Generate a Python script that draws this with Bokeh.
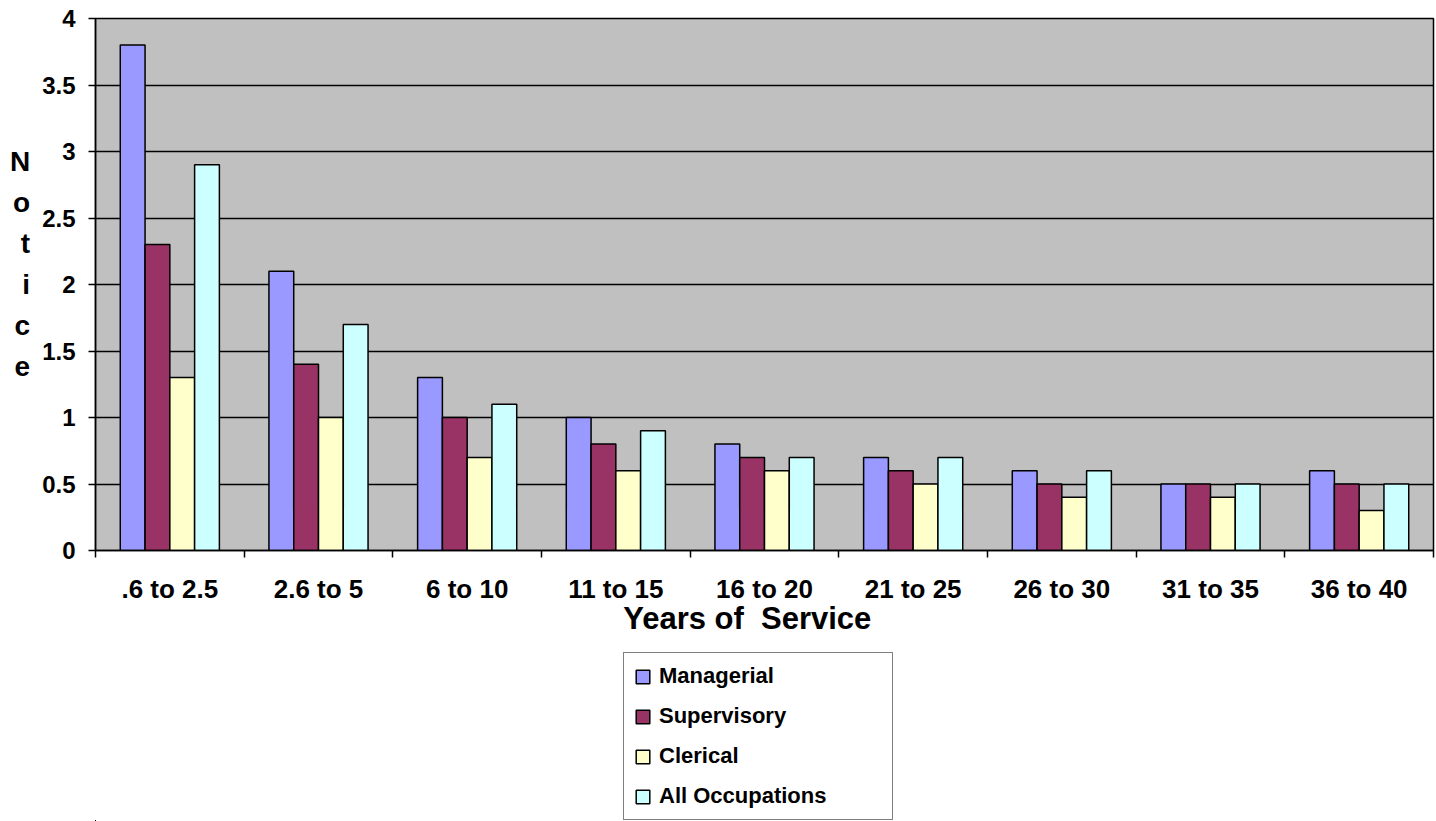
from bokeh.plotting import figure
from bokeh.layouts import column
from bokeh.models import (ColumnDataSource, Range1d, FixedTicker, NumeralTickFormatter,
                          Legend, LegendItem)
from bokeh.transform import dodge
from bokeh.embed import file_html
from bokeh.resources import INLINE

categories = [".6 to 2.5", "2.6 to 5", "6 to 10", "11 to 15", "16 to 20",
              "21 to 25", "26 to 30", "31 to 35", "36 to 40"]
managerial = [3.8, 2.1, 1.3, 1.0, 0.8, 0.7, 0.6, 0.5, 0.6]
supervisory = [2.3, 1.4, 1.0, 0.8, 0.7, 0.6, 0.5, 0.5, 0.5]
clerical = [1.3, 1.0, 0.7, 0.6, 0.6, 0.5, 0.4, 0.4, 0.3]
all_occupations = [2.9, 1.7, 1.1, 0.9, 0.7, 0.7, 0.6, 0.5, 0.5]
series_names = ["Managerial", "Supervisory", "Clerical", "All Occupations"]
series_keys = ["managerial", "supervisory", "clerical", "all_occupations"]
series_colors = ["#9999FF", "#993366", "#FFFFCC", "#CCFFFF"]
y_ticks = [0, 0.5, 1, 1.5, 2, 2.5, 3, 3.5, 4]

FONT = "Liberation Sans"

n = len(categories)
centers = [i + 0.5 for i in range(n)]
bounds = list(range(n + 1))

src = ColumnDataSource(dict(x=centers, managerial=managerial, supervisory=supervisory,
                            clerical=clerical, all_occupations=all_occupations))

p = figure(width=1436, height=644, x_range=Range1d(0, n), y_range=Range1d(0, 4),
           output_backend="svg", toolbar_location=None,
           min_border_top=18, min_border_right=3, min_border_left=95, min_border_bottom=94)
p.background_fill_color = "#C0C0C0"
p.border_fill_color = "white"
p.outline_line_color = "black"
p.outline_line_width = 1.5

p.xgrid.visible = False
p.yaxis.ticker = FixedTicker(ticks=y_ticks)
p.yaxis.formatter = NumeralTickFormatter(format="0.[0]")
p.ygrid.grid_line_color = "black"
p.ygrid.grid_line_width = 1.5

# y axis
p.yaxis.axis_line_color = "black"
p.yaxis.axis_line_width = 1.5
p.yaxis.major_tick_in = 0
p.yaxis.major_tick_out = 7
p.yaxis.major_tick_line_width = 1.5
p.yaxis.minor_tick_line_color = None
p.yaxis.major_label_standoff = 13
p.yaxis.major_label_text_font = FONT
p.yaxis.major_label_text_font_style = "bold"
p.yaxis.major_label_text_font_size = "24px"
p.yaxis.major_label_text_color = "black"
p.yaxis.axis_label = "N\no\nt\ni\nc\ne\n\u00a0"
p.yaxis.axis_label_orientation = "horizontal"
p.yaxis.axis_label_text_font = FONT
p.yaxis.axis_label_text_font_style = "bold"
p.yaxis.axis_label_text_font_size = "28px"
p.yaxis.axis_label_text_color = "black"
p.yaxis.axis_label_text_line_height = 1.32
p.yaxis.axis_label_standoff = 9

# x axis
p.xaxis.ticker = FixedTicker(ticks=centers, minor_ticks=bounds)
p.xaxis.major_label_overrides = {c: lab for c, lab in zip(centers, categories)}
p.xaxis.major_tick_line_color = None
p.xaxis.minor_tick_in = 0
p.xaxis.minor_tick_out = 7
p.xaxis.minor_tick_line_color = "black"
p.xaxis.minor_tick_line_width = 1.5
p.xaxis.axis_line_color = "black"
p.xaxis.axis_line_width = 1.5
p.xaxis.major_label_standoff = 16
p.xaxis.major_label_text_font = FONT
p.xaxis.major_label_text_font_style = "bold"
p.xaxis.major_label_text_font_size = "26px"
p.xaxis.major_label_text_color = "black"
p.xaxis.axis_label = "Years of\u00a0 Service\u00a0\u00a0\u00a0\u00a0"
p.xaxis.axis_label_text_font = FONT
p.xaxis.axis_label_text_font_style = "bold"
p.xaxis.axis_label_text_font_size = "31px"
p.xaxis.axis_label_text_color = "black"
p.xaxis.axis_label_standoff = -6

bar_w = 1.0 / 6
offsets = [-1.5 * bar_w, -0.5 * bar_w, 0.5 * bar_w, 1.5 * bar_w]
for key, col, off in zip(series_keys, series_colors, offsets):
    p.vbar(x=dodge("x", off), top=key, width=bar_w, bottom=0, source=src,
           fill_color=col, line_color="black", line_width=1.5)

# legend panel below the chart (its own bars lie outside its visible range)
lg = figure(width=1436, height=177, x_range=Range1d(100, 101), y_range=Range1d(100, 101),
            output_backend="svg", toolbar_location=None,
            x_axis_location=None, y_axis_location=None,
            min_border_top=0, min_border_bottom=0, min_border_left=0, min_border_right=0)
lg.outline_line_color = None
lg.xgrid.visible = False
lg.ygrid.visible = False
lg.background_fill_color = "white"
lg.border_fill_color = "white"

items = []
for key, name, col in zip(series_keys, series_names, series_colors):
    r = lg.vbar(x="x", top=key, width=0.1, bottom=0, source=src,
                fill_color=col, line_color="black", line_width=1.5)
    items.append(LegendItem(label=name, renderers=[r]))

legend = Legend(items=items, location=(528, 1), orientation="vertical",
                label_text_font=FONT, label_text_font_style="bold",
                label_text_font_size="22px", label_text_color="black",
                glyph_width=17, glyph_height=17, label_height=24, label_width=223,
                spacing=14, padding=10, label_standoff=8,
                border_line_color="black", border_line_width=1.5,
                background_fill_color="white", background_fill_alpha=1,
                margin=0)
lg.add_layout(legend, "center")

layout = column(p, lg, spacing=0)
open("out.html", "w").write(file_html(layout, INLINE))
